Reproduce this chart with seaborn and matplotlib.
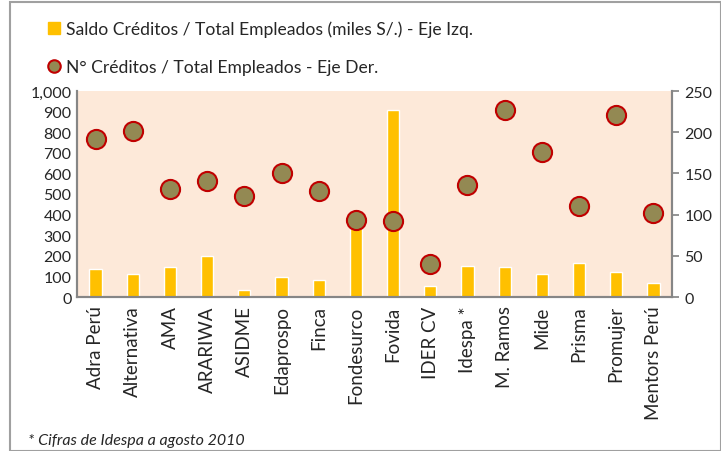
import matplotlib
import matplotlib.pyplot as plt
import pandas as pd
import seaborn as sns
from matplotlib.lines import Line2D
from matplotlib.patches import Rectangle

matplotlib.use("Agg")

sns.set_theme(style="white")
plt.rcParams["font.family"] = ["Lato", "DejaVu Sans"]

instituciones = [
    "Adra Perú", "Alternativa", "AMA", "ARARIWA", "ASIDME", "Edaprospo",
    "Finca", "Fondesurco", "Fovida", "IDER CV", "Idespa *", "M. Ramos",
    "Mide", "Prisma", "Promujer", "Mentors Perú",
]
saldo_por_empleado = [134, 113, 146, 200, 32, 95, 82, 345, 908, 53, 150, 147, 112, 165, 123, 68]
creditos_por_empleado = [192, 202, 131, 141, 122, 151, 129, 93, 92, 40, 136, 227, 176, 110, 221, 102]

label_bar = "Saldo Créditos / Total Empleados (miles S/.) - Eje Izq."
label_dot = "N° Créditos / Total Empleados - Eje Der."

df = pd.DataFrame({
    "institucion": instituciones,
    "saldo": saldo_por_empleado,
    "creditos": creditos_por_empleado,
})

fig = plt.figure(figsize=(7.21, 4.52), dpi=100)
ax = fig.add_axes([77 / 721, 1 - 298 / 452, 595 / 721, 206 / 452])
ax.set_facecolor("#FDE9D9")

sns.barplot(data=df, x="institucion", y="saldo", color="#FFC000",
            width=0.33, saturation=1, ax=ax)
ax.set_ylim(0, 1000)
ax.set_yticks(range(0, 1001, 100))
ax.set_yticklabels([f"{v:,}" for v in range(0, 1001, 100)])
ax.set_xlabel("")
ax.set_ylabel("")
ax.tick_params(axis="x", labelrotation=90, labelsize=13.5, length=0, pad=6)
ax.tick_params(axis="y", labelsize=11.5, length=0, pad=4)

ax2 = ax.twinx()
sns.scatterplot(data=df, x="institucion", y="creditos", s=190,
                color="#938953", edgecolor="#C00000", linewidth=1.5,
                zorder=5, ax=ax2)
ax2.set_ylim(0, 250)
ax2.set_yticks(range(0, 251, 50))
ax2.set_ylabel("")
ax2.tick_params(axis="y", labelsize=11.5, length=5, color="#868686", pad=4, right=True)
ax.set_xlim(-0.5, len(instituciones) - 0.5)

for a in (ax, ax2):
    for side, sp in a.spines.items():
        sp.set_visible(side in ("left", "bottom", "right"))
        sp.set_color("#868686")
        sp.set_linewidth(1.5)

handles = [
    Line2D([], [], marker="s", linestyle="", markersize=9,
           markerfacecolor="#FFC000", markeredgecolor="#FFC000"),
    Line2D([], [], marker="o", linestyle="", markersize=9,
           markerfacecolor="#938953", markeredgecolor="#C00000", markeredgewidth=1.5),
]
fig.legend(handles, [label_bar, label_dot], loc="upper left",
           bbox_to_anchor=(31 / 721, 1 - 6 / 452), frameon=False,
           fontsize=12.6, labelspacing=1.25, handlelength=0.8, handletextpad=0.3)

fig.text(28 / 721, 1 - 441 / 452, "* Cifras de Idespa a agosto 2010",
         fontsize=11.5, style="italic", va="center")

fig.patches.append(Rectangle((10 / 721, 0), 1 - 10 / 721, 1 - 3 / 452,
                             transform=fig.transFigure, fill=False,
                             edgecolor="#A0A0A0", linewidth=1.5))

fig.savefig("out.png", dpi=100)
plt.close(fig)
